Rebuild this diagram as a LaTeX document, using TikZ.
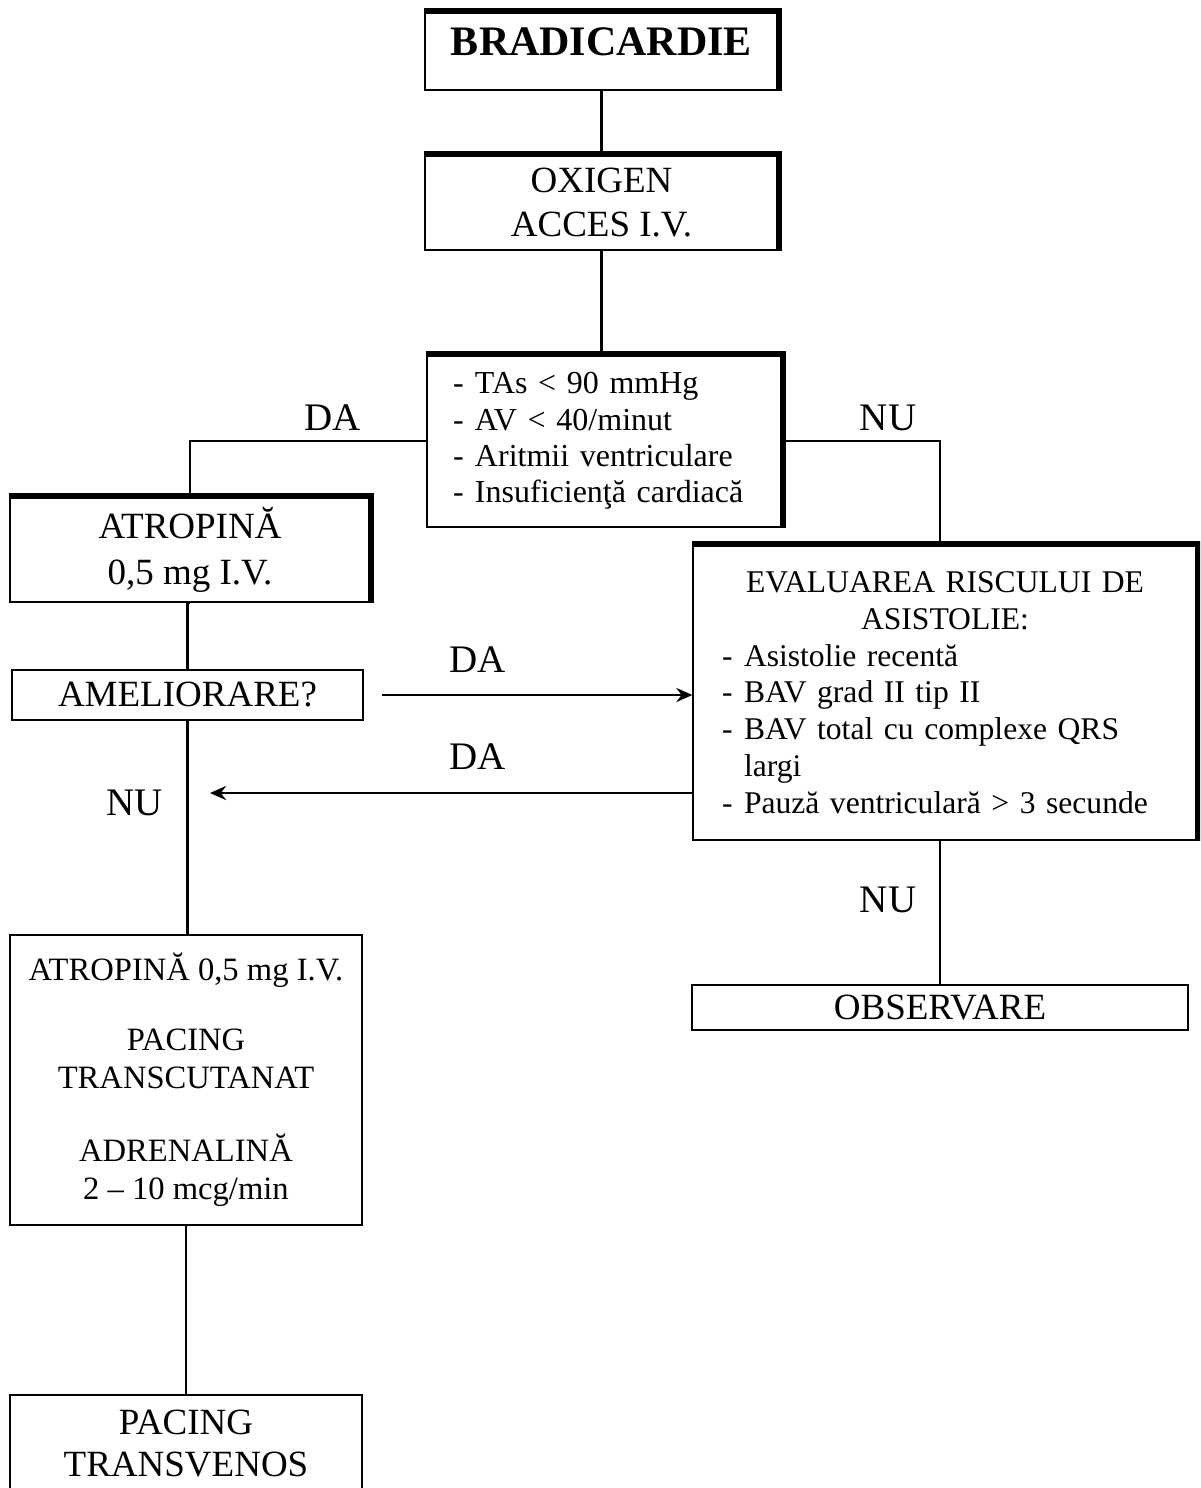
\documentclass[tikz,border=0pt]{standalone}
\usepackage{fontspec}
\setmainfont{Liberation Serif}
\usetikzlibrary{arrows.meta}
\newcommand\itm{\makebox[11pt][l]{-}}
\begin{document}
\begin{tikzpicture}[x=0.5pt,y=-0.5pt,
  plainbox/.style={draw, line width=1pt, inner sep=0pt, align=center,
    font=\fontsize{18.5}{22}\selectfont},
  shadebox/.style={plainbox, line width=0.6pt},
  heavy/.style={line width=3pt, line join=miter},
  conn/.style={line width=1.4pt},
  tip/.style={-{Stealth[length=8pt,width=7pt]}},
  lbl/.style={inner sep=0pt, font=\fontsize{19.5}{22}\selectfont}
]
\useasboundingbox (0,0) rectangle (1200,1488);
\clip (0,0) rectangle (1200,1488);

% boxes
\node[shadebox, minimum width=176.5pt, minimum height=39pt,
      font=\fontsize{21}{24}\selectfont\bfseries, text height=13.9pt, text depth=9pt]
      (brad) at (601.5,51) {BRADICARDIE};
\node[shadebox, minimum width=176.5pt, minimum height=47.5pt,
      font=\fontsize{18.5}{22}\selectfont]
      (oxi) at (601.5,202.5) {OXIGEN\\ACCES I.V.};
\node[shadebox, minimum width=177.5pt, minimum height=86pt, text width=151.5pt, align=left,
      font=\fontsize{16}{18.2}\selectfont]
      (crit) at (604.5,441)
      {\itm TAs < 90 mmHg\\\itm AV < 40/minut\\\itm Aritmii ventriculare\\\itm Insuficienţă cardiacă};
\node[shadebox, minimum width=180pt, minimum height=52.5pt,
      font=\fontsize{18.5}{23}\selectfont]
      (atr1) at (190,549.5) {ATROPINĂ\\0,5 mg I.V.};
\node[plainbox, minimum width=175.5pt, minimum height=25pt]
      (amel) at (187.5,695) {AMELIORARE?};
\node[shadebox, minimum width=252pt, minimum height=147.5pt, text width=223pt, align=left,
      font=\fontsize{15.8}{18.4}\selectfont]
      (eval) at (945,692.5)
      {\centering EVALUAREA RISCULUI DE\\ASISTOLIE:\par\raggedright
       \itm Asistolie recentă\\\itm BAV grad II tip II\\\itm BAV total cu complexe QRS\\
       \hspace*{11pt}largi\\\itm Pauză ventriculară > 3 secunde};
\node[plainbox, minimum width=176pt, minimum height=145pt,
      font=\fontsize{16.3}{19}\selectfont]
      (atr2) at (186,1080)
      {ATROPINĂ 0,5 mg I.V.\\[16pt]PACING\\TRANSCUTANAT\\[17.5pt]ADRENALINĂ\\2 -- 10 mcg/min};
\node[plainbox, minimum width=248pt, minimum height=22.5pt]
      (obs) at (940,1007.5) {OBSERVARE};
\node[plainbox, minimum width=176pt, minimum height=48.5pt,
      font=\fontsize{18.5}{21}\selectfont]
      (pac) at (186,1443.5) {PACING\\TRANSVENOS};

% heavy top and right edges
\foreach \n in {brad,oxi,crit,atr1,eval}
  \draw[heavy] (\n.north west) -- (\n.north east) -- (\n.south east);

% connectors
\draw[conn] (brad.south) -- (oxi.north);
\draw[conn] (oxi.south) -- (oxi.south |- crit.north);
\draw[conn] (crit.west) -| (atr1.north);
\draw[conn] (crit.east) -| ([xshift=-2.5pt]eval.north);
\draw[conn] (atr1.south) -- (atr1.south -| amel.north) -- (amel.north);
\draw[conn, tip, shorten <=9pt] (amel.east) -- (amel.east -| eval.west);
\coordinate (back) at (210,793);
\draw[conn, tip] (eval.west |- back) -- (back);
\draw[conn] (amel.south) -- (amel.south |- atr2.north);
\draw[conn] (eval.south -| obs.north) -- (obs.north);
\draw[conn] (atr2.south) -- (pac.north);

% branch labels
\node[lbl] (da1) at (333,418) {DA};
\node[lbl] (nu1) at (888,418) {NU};
\node[lbl] (da2) at (478,660) {DA};
\node[lbl] (da3) at (478,757) {DA};
\node[lbl] (nu2) at (135,803) {NU};
\node[lbl] (nu3) at (888,900) {NU};
\end{tikzpicture}
\end{document}
